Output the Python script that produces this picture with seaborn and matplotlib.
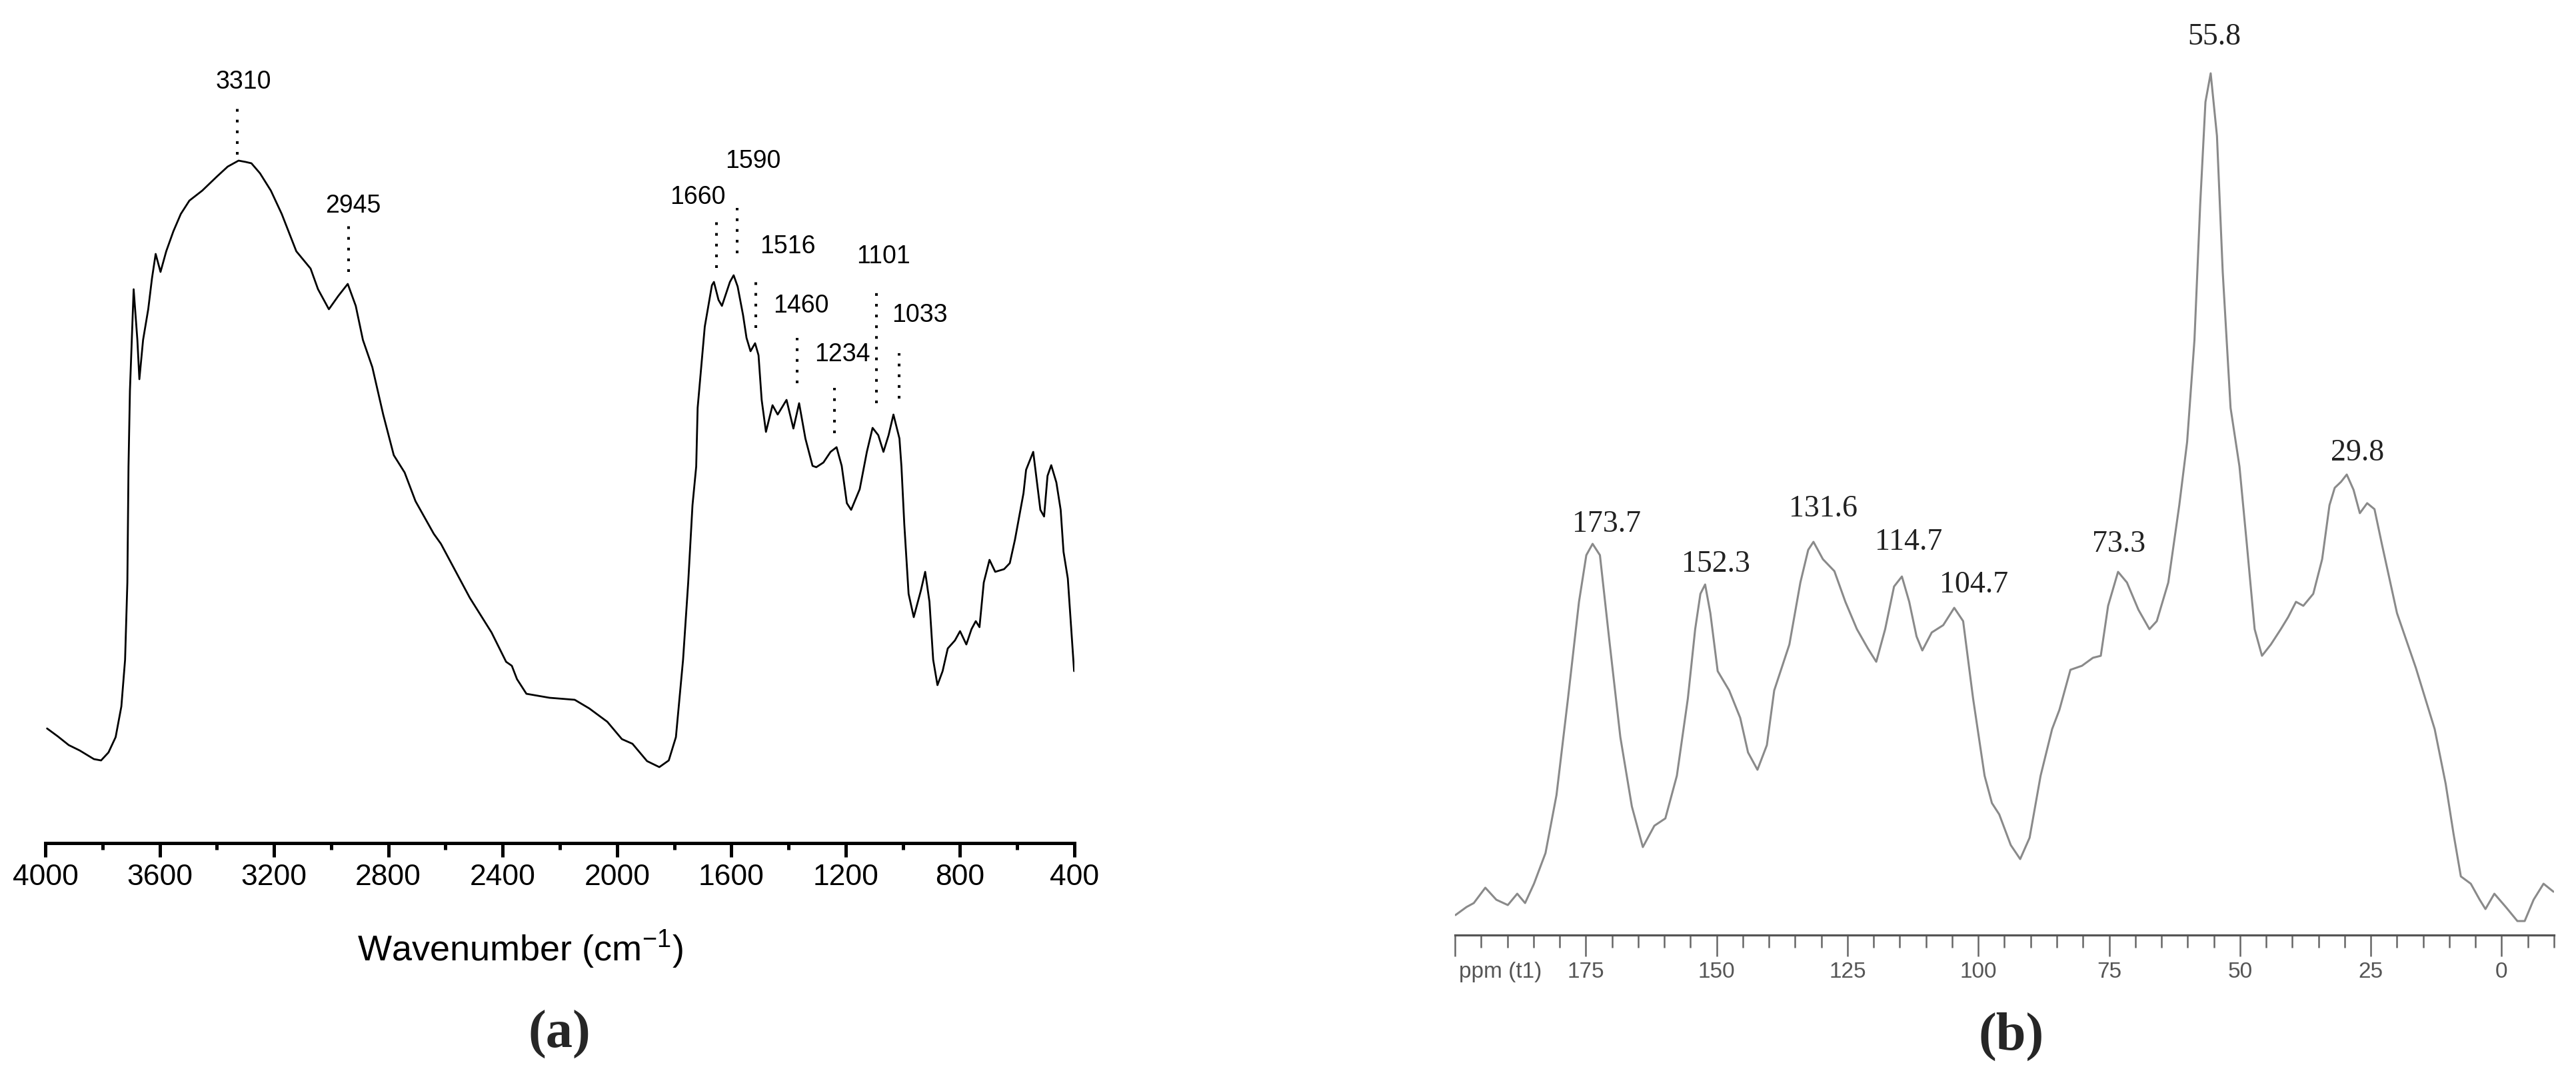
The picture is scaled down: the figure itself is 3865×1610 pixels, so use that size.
import matplotlib
matplotlib.use('Agg')
import matplotlib.pyplot as plt
import seaborn as sns
from matplotlib.ticker import MultipleLocator

# (a) FTIR spectrum, wavenumber (cm-1) vs transmittance (arbitrary units)
ftir_wavenumber = [3994, 3956, 3918, 3880, 3830, 3805, 3779, 3754, 3734, 3721, 3713, 3709, 3704, 3691,
                   3678, 3671, 3658, 3640, 3627, 3614, 3597, 3577, 3552, 3526, 3496, 3451, 3400, 3362,
                   3324, 3299, 3279, 3249, 3211, 3173, 3122, 3072, 3046, 3008, 2975, 2942, 2914, 2889,
                   2856, 2818, 2781, 2743, 2705, 2641, 2616, 2565, 2515, 2439, 2388, 2368, 2350, 2317,
                   2236, 2148, 2097, 2034, 1983, 1946, 1895, 1852, 1819, 1794, 1769, 1751, 1736, 1723,
                   1718, 1693, 1668, 1661, 1645, 1633, 1605, 1592, 1578, 1559, 1547, 1533, 1517, 1505,
                   1494, 1479, 1456, 1438, 1407, 1383, 1363, 1341, 1316, 1303, 1278, 1253, 1232, 1214,
                   1196, 1181, 1151, 1126, 1106, 1086, 1068, 1050, 1033, 1012, 1005, 995, 980, 962,
                   937, 922, 907, 894, 879, 861, 843, 818, 800, 778, 760, 745, 732, 717, 697, 677, 646,
                   626, 608, 591, 578, 569, 544, 519, 506, 494, 481, 463, 448, 438, 423, 401]
ftir_signal = [17.2, 16.0, 14.7, 13.9, 12.6, 12.4, 13.6, 15.9, 20.5, 27.5, 39.1, 56.5, 67.9, 83.1,
               75.5, 69.6, 75.5, 80.1, 84.7, 88.4, 85.7, 88.8, 91.8, 94.4, 96.4, 97.9, 100.0, 101.5,
               102.4, 102.2, 102.0, 100.5, 97.9, 94.4, 88.8, 86.2, 83.1, 80.1, 82.1, 83.9, 80.6, 75.5,
               71.4, 64.3, 58.2, 55.6, 51.3, 46.4, 44.9, 40.8, 36.8, 31.6, 27.2, 26.6, 24.6, 22.4,
               21.8, 21.5, 20.2, 18.2, 15.6, 14.9, 12.3, 11.4, 12.4, 15.9, 27.5, 39.1, 50.7, 56.5,
               65.3, 77.5, 83.7, 84.2, 81.5, 80.6, 84.2, 85.2, 83.5, 79.2, 75.8, 73.8, 75.0, 73.2,
               66.5, 61.7, 65.7, 64.3, 66.5, 62.2, 66.0, 60.7, 56.6, 56.4, 57.1, 58.7, 59.4, 56.6,
               51.0, 50.0, 53.1, 58.7, 62.3, 61.2, 58.7, 61.2, 64.3, 60.7, 56.5, 47.8, 37.4, 33.9,
               37.9, 40.7, 36.2, 27.5, 23.7, 25.8, 29.2, 30.4, 31.8, 29.8, 32.1, 33.3, 32.4, 39.1,
               42.5, 40.7, 41.1, 42.0, 45.5, 49.5, 52.5, 56.0, 58.7, 50.0, 49.0, 55.1, 56.7, 54.1,
               50.0, 43.7, 39.7, 25.8]

ftir_peak_labels = ['3310', '2945', '1660', '1590', '1516', '1460', '1234', '1101', '1033']
ftir_peak_x = [3329, 2938, 1652, 1580, 1515, 1370, 1239, 1092, 1013]
ftir_mark_top = [110.7, 92.8, 93.2, 95.3, 84.2, 75.8, 68.3, 82.7, 73.5]
ftir_mark_bottom = [103.3, 85.7, 86.3, 88.5, 77.3, 69.0, 61.5, 66.0, 66.7]
ftir_text_x = [3405, 3021, 1815, 1622, 1501, 1454, 1309, 1162, 1039]
ftir_text_y = [113.2, 94.6, 95.9, 101.3, 88.5, 79.6, 72.3, 87.0, 78.2]

# (b) 13C NMR spectrum, chemical shift (ppm) vs intensity (arbitrary units)
nmr_ppm = [199.9, 197.8, 196.4, 194.2, 192.1, 189.9, 188.1, 186.6, 184.9, 182.7, 180.6, 178.4,
           176.3, 174.9, 173.7, 172.3, 170.5, 168.4, 166.2, 164.1, 161.9, 159.8, 157.6, 155.5,
           154.1, 153.1, 152.2, 151.2, 149.8, 147.6, 145.5, 144.0, 142.2, 140.4, 139.0, 136.1,
           134.0, 132.5, 131.5, 129.7, 127.5, 125.4, 123.2, 121.1, 119.5, 117.8, 116.1, 114.6,
           113.2, 111.8, 110.7, 108.9, 106.7, 104.6, 102.9, 101.0, 98.8, 97.4, 96.0, 93.8, 92.0,
           90.2, 88.1, 85.9, 84.5, 82.4, 80.2, 78.1, 76.6, 75.2, 73.3, 71.6, 69.4, 67.3, 65.9,
           63.7, 61.6, 60.1, 58.7, 57.6, 56.6, 55.6, 54.4, 53.3, 51.8, 50.1, 48.7, 47.2, 45.8,
           44.1, 42.2, 40.8, 39.3, 37.9, 36.0, 34.3, 32.9, 31.9, 30.7, 29.6, 28.3, 27.1, 25.7,
           24.3, 22.9, 20.0, 16.4, 12.8, 10.7, 9.2, 7.8, 5.9, 4.2, 3.1, 1.4, -0.8, -3.0, -4.4,
           -6.1, -8.0, -9.9]
nmr_signal = [3.0, 4.2, 4.8, 7.1, 5.3, 4.5, 6.2, 4.8, 7.7, 12.3, 21.0, 35.5,
              50.0, 57.0, 58.7, 57.0, 44.2, 29.7, 19.3, 13.2, 16.4, 17.5, 23.9, 35.5,
              45.9, 51.2, 52.6, 48.3, 39.6, 36.7, 32.6, 27.4, 24.8, 28.5, 36.7, 43.6,
              52.9, 57.8, 59.0, 56.4, 54.6, 50.0, 45.9, 43.0, 41.0, 45.9, 52.3, 53.8,
              50.0, 44.8, 42.7, 45.4, 46.5, 49.1, 47.1, 35.5, 23.9, 19.8, 18.1, 13.5, 11.4,
              14.6, 23.9, 30.9, 33.8, 39.8, 40.4, 41.6, 41.9, 49.4, 54.5, 52.9, 48.8, 45.9, 47.1,
              52.9, 64.5, 74.0, 89.3, 109.7, 125.0, 129.3, 119.9, 99.5, 79.1, 70.3, 58.7, 45.9, 41.9,
              43.6, 45.9, 47.7, 50.0, 49.4, 51.2, 56.4, 64.5, 67.1, 68.0, 69.1, 66.8, 63.3, 64.8,
              63.9, 58.7, 48.3, 40.1, 30.9, 22.7, 15.2, 8.8, 7.7, 5.3, 3.9, 6.2, 4.2, 2.1, 2.1,
              5.3, 7.7, 6.5]

nmr_peak_labels = ['173.7', '152.3', '131.6', '114.7', '104.7', '73.3', '55.8', '29.8']
nmr_text_x = [171.0, 150.2, 129.7, 113.3, 100.9, 73.2, 54.9, 27.6]
nmr_text_y = [60.5, 54.5, 62.8, 57.8, 51.4, 57.5, 133.6, 71.2]
nmr_ticks = [200, 175, 150, 125, 100, 75, 50, 25, 0]
nmr_tick_labels = ['', '175', '150', '125', '100', '75', '50', '25', '0']

sns.set_theme(style='ticks')
plt.rcParams['font.family'] = ['Liberation Sans', 'DejaVu Sans']
plt.rcParams['mathtext.fontset'] = 'custom'
plt.rcParams['mathtext.rm'] = 'Liberation Sans'
plt.rcParams['mathtext.it'] = 'Liberation Sans:italic'

W, H = 3866, 1610
fig = plt.figure(figsize=(W / 100, H / 100), dpi=100)
fig.patch.set_facecolor('white')

# ---- panel (a)
ax_a = fig.add_axes([68 / W, (H - 1265) / H, 1544 / W, 1265 / H])
sns.lineplot(x=ftir_wavenumber, y=ftir_signal, ax=ax_a, color='black', lw=2.0,
             sort=False, estimator=None, solid_joinstyle='round')
ax_a.set_xlim(4000, 400)
ax_a.set_ylim(0, 126.5)
ax_a.set_yticks([])
ax_a.set_xlabel('')
ax_a.set_ylabel('')
ax_a.xaxis.set_major_locator(MultipleLocator(400))
ax_a.xaxis.set_minor_locator(MultipleLocator(200))
ax_a.tick_params(axis='x', which='major', length=15, width=3.6, color='black',
                 labelsize=32, pad=7, labelcolor='black')
ax_a.tick_params(axis='x', which='minor', length=7.5, width=3.6, color='black')
sns.despine(ax=ax_a, left=True)
ax_a.spines['bottom'].set_linewidth(3.6)
ax_a.spines['bottom'].set_color('black')

for lab, px, top, bot, tx, ty in zip(ftir_peak_labels, ftir_peak_x, ftir_mark_top,
                                      ftir_mark_bottom, ftir_text_x, ftir_text_y):
    ax_a.plot([px, px], [bot, top], color='black', lw=2.9, linestyle=(0, (1, 3)))
    ax_a.text(tx, ty, lab, ha='left', va='baseline', fontsize=27, color='black')

fig.text(780 / W, 1 - 1425 / H, 'Wavenumber (cm$^{\\mathregular{-1}}$)', ha='center',
         va='center', fontsize=39, color='black')
fig.text(839 / W, 1 - 1552 / H, '(a)', ha='center', va='center', fontsize=58,
         fontweight='bold', family=['Liberation Serif', 'DejaVu Serif'])

# ---- panel (b)
ax_b = fig.add_axes([2183 / W, (H - 1403) / H, 1649 / W, 1403 / H])
sns.lineplot(x=nmr_ppm, y=nmr_signal, ax=ax_b, color='#8a8a8a', lw=2.2,
             sort=False, estimator=None, solid_joinstyle='round')
ax_b.set_xlim(200, -10)
ax_b.set_ylim(0, 140.3)
ax_b.set_yticks([])
ax_b.set_xlabel('')
ax_b.set_ylabel('')
ax_b.set_xticks(nmr_ticks, nmr_tick_labels)
ax_b.xaxis.set_minor_locator(MultipleLocator(5))
ax_b.tick_params(axis='x', which='major', length=23, width=1.8, color='#666666',
                 labelsize=24, pad=6, labelcolor='#555555')
ax_b.tick_params(axis='x', which='minor', length=13.5, width=1.8, color='#666666')
for t in ax_b.get_xticklabels():
    t.set_family(['Liberation Sans Narrow', 'Liberation Sans'])
sns.despine(ax=ax_b, left=True)
ax_b.spines['bottom'].set_linewidth(2.3)
ax_b.spines['bottom'].set_color('#555555')
ax_b.annotate('ppm (t1)', xy=(200, 0), xycoords=ax_b.get_xaxis_transform(),
              xytext=(4, -29), textcoords='offset points', ha='left', va='top',
              fontsize=24, color='#555555',
              family=['Liberation Sans Narrow', 'Liberation Sans'])

for lab, tx, ty in zip(nmr_peak_labels, nmr_text_x, nmr_text_y):
    ax_b.text(tx, ty, lab, ha='center', va='baseline', fontsize=33, color='#222222',
              family=['Liberation Serif', 'DejaVu Serif'])

fig.text(3018 / W, 1 - 1555 / H, '(b)', ha='center', va='center', fontsize=58,
         fontweight='bold', family=['Liberation Serif', 'DejaVu Serif'])

fig.savefig('out.png', dpi=100, facecolor='white')
